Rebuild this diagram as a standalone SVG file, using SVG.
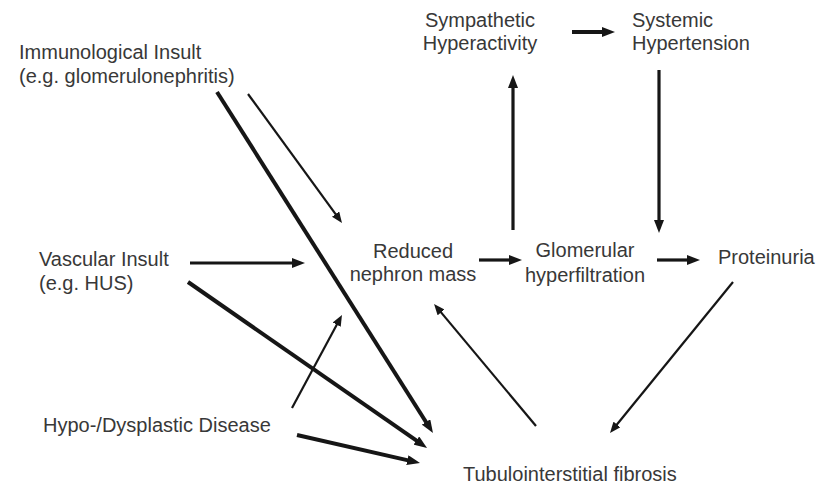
<svg xmlns="http://www.w3.org/2000/svg" width="829" height="484" viewBox="0 0 829 484">
<defs>
<style>
text{font-family:"Liberation Sans",Arial,Helvetica,sans-serif;font-size:20px;fill:#383838}
.c{text-anchor:middle}
line{stroke:#161616;stroke-linecap:butt}
.b{stroke-width:4;marker-end:url(#hb)}
.m{stroke-width:3.2;marker-end:url(#hb)}
.s{stroke-width:2.2;marker-end:url(#hs)}
</style>
<marker id="hb" markerUnits="userSpaceOnUse" markerWidth="13" markerHeight="10" refX="2" refY="5" orient="auto"><path d="M0,0 L13,5 L0,10 z" fill="#161616"/></marker>
<marker id="hs" markerUnits="userSpaceOnUse" markerWidth="11" markerHeight="9" refX="2" refY="4.5" orient="auto"><path d="M0,0 L11,4.5 L0,9 z" fill="#161616"/></marker>
</defs>
<rect width="829" height="484" fill="#ffffff"/>
<g id="immunological"><text x="19" y="59">Immunological Insult</text><text x="19" y="83">(e.g. glomerulonephritis)</text></g>
<g id="sympathetic"><text class="c" x="480" y="27">Sympathetic</text><text class="c" x="480" y="50">Hyperactivity</text></g>
<g id="systemic"><text x="632" y="27">Systemic</text><text x="632" y="50">Hypertension</text></g>
<g id="vascular"><text x="39" y="266">Vascular Insult</text><text x="39" y="290">(e.g. HUS)</text></g>
<g id="reduced"><text class="c" x="413" y="258">Reduced</text><text class="c" x="413" y="281">nephron mass</text></g>
<g id="glomerular"><text class="c" x="585" y="257">Glomerular</text><text class="c" x="585" y="282">hyperfiltration</text></g>
<g id="proteinuria"><text x="718" y="264">Proteinuria</text></g>
<g id="hypo"><text x="43" y="432">Hypo-/Dysplastic Disease</text></g>
<g id="tubulo"><text x="463" y="481">Tubulointerstitial fibrosis</text></g>
<g id="connectors">
<line class="b" x1="572" y1="32" x2="604" y2="32"/>
<line class="m" x1="513" y1="230" x2="513" y2="86"/>
<line class="m" x1="659" y1="70" x2="659" y2="222"/>
<line class="m" x1="479" y1="260" x2="511" y2="260"/>
<line class="m" x1="657" y1="260" x2="689" y2="260"/>
<line class="s" x1="733" y1="282" x2="615.7" y2="426"/>
<line class="s" x1="536" y1="426" x2="439.8" y2="310.9"/>
<line class="s" x1="248" y1="94" x2="336.7" y2="215.7"/>
<line class="b" x1="217" y1="92" x2="427.1" y2="423.7"/>
<line class="m" x1="190" y1="263" x2="294" y2="263"/>
<line class="b" x1="188" y1="282" x2="418" y2="441.7"/>
<line class="s" x1="292" y1="408" x2="337.7" y2="322.9"/>
<line class="b" x1="297" y1="435" x2="409.3" y2="460.6"/>
</g>
</svg>
